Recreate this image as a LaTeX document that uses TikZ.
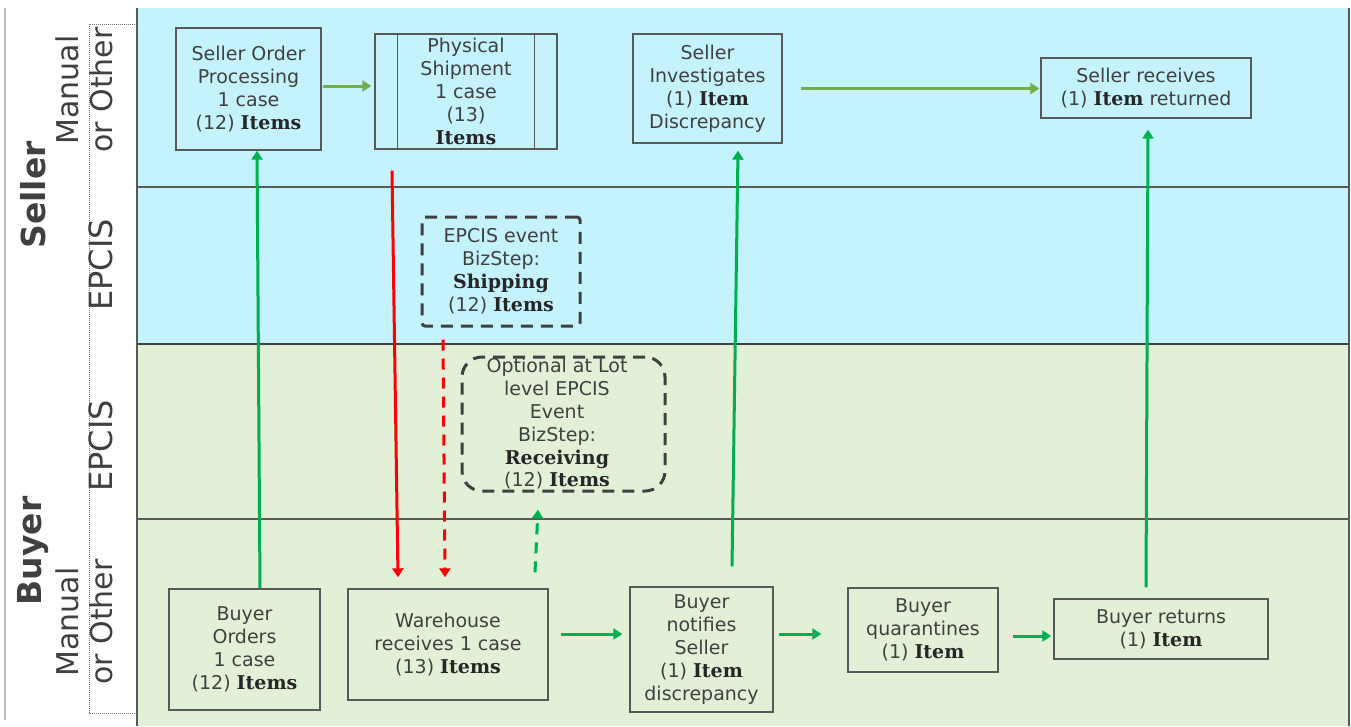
\documentclass[tikz,border=0pt]{standalone}
\usepackage{fontspec}
\setmainfont{DejaVu Sans}
\newfontfamily\bsf{DejaVu Serif}
\usetikzlibrary{arrows.meta,calc}
\definecolor{bluebg}{RGB}{196,242,253}
\definecolor{greenbg}{RGB}{227,240,216}
\definecolor{txt}{RGB}{64,64,64}
\definecolor{bord}{RGB}{89,89,89}
\definecolor{agreen}{RGB}{0,176,80}
\definecolor{lgreen}{RGB}{112,173,71}
\newcommand{\bi}[1]{{\bsf\bfseries\color{black!85}#1}}
\tikzset{
  box/.style={draw=bord, line width=1.4pt, inner sep=0pt, align=center, text=txt,
    font=\fontsize{19}{23}\selectfont},
  dbox/.style={draw=txt, line width=3pt, dash pattern=on 12pt off 8pt, inner sep=0pt,
    rounded corners=3pt},
  lbl/.style={text=txt, rotate=90, align=center, inner sep=0pt},
  arr/.style={line width=3pt, -{Triangle[length=9pt,width=11pt]}},
  darr/.style={arr, dash pattern=on 11pt off 8pt},
  lane/.style={draw=bord, line width=1.3pt},
}
\begin{document}
\begin{tikzpicture}[x=1pt,y=-1pt]
\useasboundingbox (0,0) rectangle (1351,726);
% backgrounds
\fill[bluebg] (137,8) rectangle (1350,344);
\fill[greenbg] (137,344) rectangle (1350,726);
\draw[lane] (137,187) -- (1349,187);
\draw[lane] (137,519) -- (1349,519);
\draw[draw=txt, line width=2.5pt] (137,344) -- (1349,344);
\draw[draw=bord, line width=2pt] (137,8) -- (137,726);
\draw[draw=bord, line width=1.5pt] (1349,8) -- (1349,726);
\draw[black!25, line width=1.5pt] (5,8) -- (5,720);
\draw[black!55, line width=0.6pt, dash pattern=on 1pt off 1pt] (137,24) -- (89,24) -- (89,713) -- (137,713);
% lane labels
\node[lbl, font=\fontsize{33}{36}\selectfont\bfseries] (seller) at (33,195) {Seller};
\node[lbl, font=\fontsize{33}{36}\selectfont\bfseries] (buyer) at (33,551) {Buyer};
\node[lbl, font=\fontsize{30}{34}\selectfont] (smo) at (84,90) {Manual\\or Other};
\node[lbl, font=\fontsize{32}{34}\selectfont] (sep) at (101,265) {EPCIS};
\node[lbl, font=\fontsize{32}{34}\selectfont] (bep) at (101,446) {EPCIS};
\node[lbl, font=\fontsize{30}{34}\selectfont] (bmo) at (84,622) {Manual\\or Other};
% seller boxes
\node[box, minimum width=145pt, minimum height=122pt] (sop) at (248.5,89) {Seller Order\\Processing\\1 case\\(12) \bi{Items}};
\node[box, minimum width=182pt, minimum height=115pt] (ps) at (466,91.5) {Physical\\Shipment\\1 case\\(13)\\\bi{Items}};
\draw[draw=bord, line width=1.4pt] ($(ps.north west)+(23,0)$) -- ($(ps.south west)+(23,0)$);
\draw[draw=bord, line width=1.4pt] ($(ps.north east)+(-23,0)$) -- ($(ps.south east)+(-23,0)$);
\node[box, minimum width=149pt, minimum height=109pt] (si) at (707.5,88.5) {Seller\\Investigates\\(1) \bi{Item}\\Discrepancy};
\node[box, minimum width=210pt, minimum height=60pt] (sr) at (1146,88) {Seller receives\\(1) \bi{Item} returned};
% EPCIS boxes
\node[dbox, minimum width=158pt, minimum height=109pt] (ev) at (501,271.5) {};
\node[box, draw=none] (evt) at (501,271.5) {EPCIS event\\BizStep:\\\bi{Shipping}\\(12) \bi{Items}};
\node[dbox, rounded corners=20pt, minimum width=203pt, minimum height=134pt] (opt) at (563.5,424) {};
\node[box, draw=none, font=\fontsize{19}{22.8}\selectfont] (optt) at (557,424) {Optional at Lot\\level EPCIS\\Event\\BizStep:\\\bi{Receiving}\\(12) \bi{Items}};
% buyer boxes
\node[box, minimum width=151pt, minimum height=121pt] (bo) at (244.5,649.5) {Buyer\\Orders\\1 case\\(12) \bi{Items}};
\node[box, minimum width=200pt, minimum height=111pt] (wh) at (448,644.5) {Warehouse\\receives 1 case\\(13) \bi{Items}};
\node[box, minimum width=143pt, minimum height=125pt] (bn) at (701.5,649.5) {Buyer\\notifies\\Seller\\(1) \bi{Item}\\discrepancy};
\node[box, minimum width=150pt, minimum height=84pt] (bq) at (923,630) {Buyer\\quarantines\\(1) \bi{Item}};
\node[box, minimum width=214pt, minimum height=60pt] (br) at (1161,629) {Buyer returns\\(1) \bi{Item}};
% arrows
\draw[arr, lgreen] ($(sop.east)+(1,-3)$) -- ($(ps.west)+(-3,-5.5)$);
\draw[arr, lgreen] ($(si.east)+(18,0)$) -- ($(sr.west)+(-1,0.5)$);
\draw[arr, agreen] ($(bo.north)+(15.5,0)$) -- ($(sop.south)+(8.5,0)$);
\draw[arr, red] ($(ps.south)+(-74,21)$) -- ($(wh.north)+(-50,-11)$);
\draw[darr, red] ($(ev.south)+(-58,12)$) -- ($(wh.north)+(-3,-11)$);
\draw[darr, agreen] ($(wh.north)+(87,-16)$) -- ($(opt.south)+(-25.5,17)$);
\draw[arr, agreen] ($(bn.north)+(30.5,-20)$) -- ($(si.south)+(30.5,7)$);
\draw[arr, agreen] ($(br.north)+(-15,-11)$) -- ($(sr.south)+(2,11)$);
\draw[arr, agreen] ($(wh.east)+(12,-10.5)$) -- ($(bn.west)+(-7,-15.5)$);
\draw[arr, agreen] ($(bn.east)+(5,-15.5)$) -- ($(bq.west)+(-26,4)$);
\draw[arr, agreen] ($(bq.east)+(14,6)$) -- ($(br.west)+(-2,7)$);
\end{tikzpicture}
\end{document}
